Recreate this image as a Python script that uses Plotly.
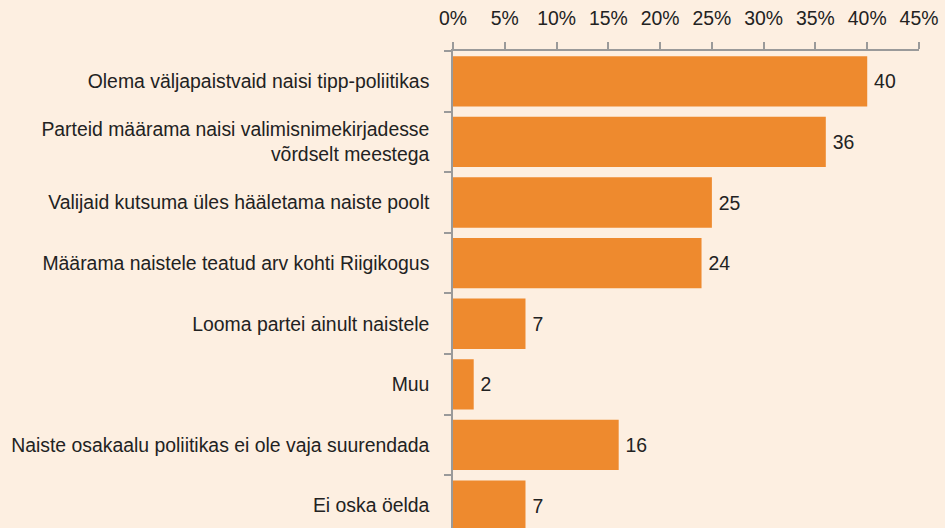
import plotly.graph_objects as go

categories = [
    'Olema väljapaistvaid naisi tipp-poliitikas',
    'Parteid määrama naisi valimisnimekirjadesse<br>võrdselt meestega',
    'Valijaid kutsuma üles hääletama naiste poolt',
    'Määrama naistele teatud arv kohti Riigikogus',
    'Looma partei ainult naistele',
    'Muu',
    'Naiste osakaalu poliitikas ei ole vaja suurendada',
    'Ei oska öelda',
]
values = [40, 36, 25, 24, 7, 2, 16, 7]

BG = '#FDEFE1'
BAR = '#EE8A2E'
AXIS = '#9A9A9A'
FONT = dict(family='Liberation Sans, Arial, sans-serif', size=19.4, color='#222222')

fig = go.Figure(go.Bar(
    x=values, y=categories, orientation='h',
    marker=dict(color=BAR, line=dict(width=0)),
    text=['\u2009' + str(v) for v in values], textposition='outside',
    textfont=FONT, cliponaxis=False, hoverinfo='skip',
))

fig.update_xaxes(side='top', range=[0, 45], dtick=5, ticksuffix='%',
                 showgrid=False, zeroline=False,
                 showline=True, linecolor=AXIS, linewidth=1.5,
                 ticks='outside', ticklen=7, tickcolor=AXIS, tickwidth=1.5,
                 tickfont=FONT, ticklabelstandoff=9)
fig.update_yaxes(range=[7.37, -0.5], showgrid=False, zeroline=False,
                 showline=True, linecolor=AXIS, linewidth=1.5,
                 ticks='outside', tickson='boundaries', ticklen=7,
                 tickcolor=AXIS, tickwidth=1.5,
                 tickfont=FONT, ticklabelstandoff=18)

fig.update_layout(
    width=945, height=528, bargap=0.17,
    paper_bgcolor=BG, plot_bgcolor=BG,
    margin=dict(l=453, r=26, t=51, b=0),
    showlegend=False, font=FONT,
)

# drop the page's default body margin so the figure sits at the window corner
fig.write_html('out.html', config={'displayModeBar': False}, post_script=(
    "document.body.style.margin='0';"
    "document.body.style.background='" + BG + "';"
    "document.body.style.overflow='hidden';"
))
